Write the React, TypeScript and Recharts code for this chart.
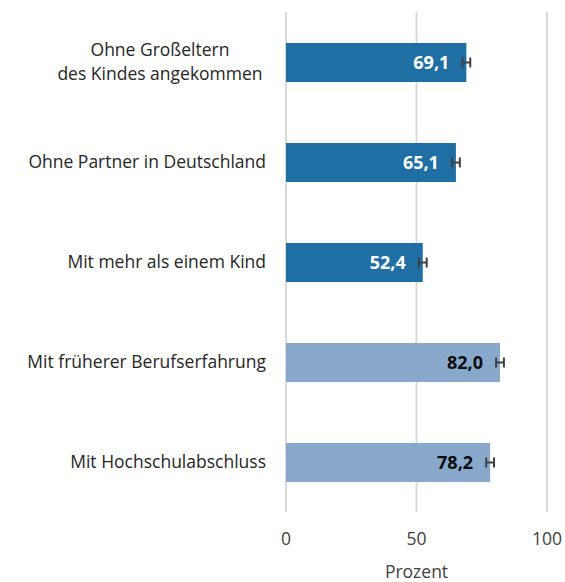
import { BarChart, Bar, XAxis, YAxis, CartesianGrid, ErrorBar, Cell, LabelList } from 'recharts'

const categories = [
  'Ohne Großeltern\ndes Kindes angekommen',
  'Ohne Partner in Deutschland',
  'Mit mehr als einem Kind',
  'Mit früherer Berufserfahrung',
  'Mit Hochschulabschluss',
]
const values = [69.1, 65.1, 52.4, 82.0, 78.2]
const errors = [1.5, 1.5, 1.5, 1.5, 1.5]
const groups = ['dark', 'dark', 'dark', 'light', 'light']
const xTicks = [0, 50, 100]

const data = categories.map((name, i) => ({ name, value: values[i], err: errors[i], group: groups[i] }))

const FONT = '"Open Sans", sans-serif'

const CategoryTick = (props: any) => {
  const { x, y, payload } = props
  const lines = String(payload.value).split('\n')
  if (lines.length > 1) {
    // wrapped label: lines centered as a block
    const cx = 160
    return (
      <text x={cx} y={y} textAnchor="middle" fontFamily={FONT} fontSize={17.5} fill="#262626">
        {lines.map((l, i) => (
          <tspan key={i} x={cx} dy={i === 0 ? -6 : 24}>{l}</tspan>
        ))}
      </text>
    )
  }
  return (
    <text x={x} y={y} dy={6} textAnchor="end" fontFamily={FONT} fontSize={17.5} fill="#262626">
      {lines[0]}
    </text>
  )
}

const ValueLabel = (props: any) => {
  const { x, y, width, height, value, index } = props
  const light = groups[index] === 'light'
  return (
    <text
      x={x + width - 17}
      y={y + height / 2}
      dy={6}
      textAnchor="end"
      fontFamily={FONT}
      fontSize={18}
      fontWeight="bold"
      fill={light ? '#0d0d0d' : '#ffffff'}
    >
      {Number(value).toFixed(1).replace('.', ',')}
    </text>
  )
}

const App = () => {
  return (
    <div style={{ position: 'absolute', left: 0, top: 0, background: '#fff' }}>
      <BarChart
        width={565}
        height={582}
        data={data}
        layout="vertical"
        margin={{ top: 12, right: 18, bottom: 0, left: 0 }}
      >
        <CartesianGrid horizontal={false} stroke="#d9d9d9" strokeWidth={2} />
        <XAxis
          type="number"
          domain={[0, 100]}
          ticks={xTicks}
          axisLine={false}
          tickLine={false}
          height={70}
          tickMargin={15}
          tick={{ fontFamily: FONT, fontSize: 17.5, fill: '#404040' }}
          label={{ value: 'Prozent', position: 'insideBottom', offset: 4, fontFamily: FONT, fontSize: 17.5, fill: '#404040' }}
        />
        <YAxis
          type="category"
          dataKey="name"
          width={286}
          axisLine={false}
          tickLine={false}
          tickMargin={14}
          tick={<CategoryTick />}
        />
        <Bar dataKey="value" isAnimationActive={false} barSize={39}>
          {data.map((d, i) => (
            <Cell key={i} fill={d.group === 'light' ? '#88a9cc' : '#1f6ea4'} />
          ))}
          <LabelList dataKey="value" content={<ValueLabel />} />
          <ErrorBar dataKey="err" direction="x" width={5} stroke="#404040" strokeWidth={2} />
        </Bar>
      </BarChart>
    </div>
  )
}

export default App
